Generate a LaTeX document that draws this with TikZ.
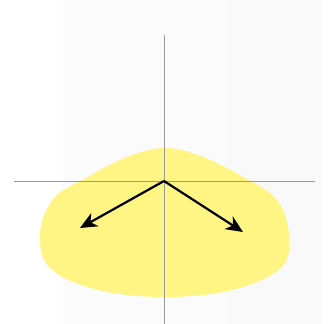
\documentclass[tikz,border=0pt]{standalone}
\usetikzlibrary{arrows.meta}
\definecolor{blob}{HTML}{FFF585}
\definecolor{axisc}{HTML}{9A9A9A}
\definecolor{panel}{HTML}{FBFBFB}
\definecolor{panelr}{HTML}{F9F9F9}
\tikzset{
  axis/.style={draw=axisc, line width=0.7pt},
  vec/.style={draw=black, line width=2.2pt, -{Stealth[length=17pt,width=15pt,inset=5pt]}},
}
\begin{document}
\begin{tikzpicture}[x=1pt,y=-1pt]
\useasboundingbox (0,0) rectangle (333,324);
\fill[white] (0,0) rectangle (333,324);
\fill[panel] (63,0) rectangle (225,324);
\fill[panelr] (225,0) rectangle (322,324);
\fill[blob] plot[smooth cycle, tension=0.6] coordinates {
  (165,148) (203,157) (245,178) (277,200) (289,235) (281,268)
  (232,290) (165,297) (98,290) (50,268) (40,233) (54,198) (86,178) (127,157)};
\coordinate (top) at (164,35);
\coordinate (bot) at (164,324);
\coordinate (lft) at (14,181);
\coordinate (rgt) at (315,181);
\coordinate (o) at (164,181);
\coordinate (a) at (80,228);
\coordinate (b) at (243,232);
\draw[axis] (top) -- (bot);
\draw[axis] (lft) -- (rgt);
\draw[vec] (o) -- (a);
\draw[vec] (o) -- (b);
\end{tikzpicture}
\end{document}
